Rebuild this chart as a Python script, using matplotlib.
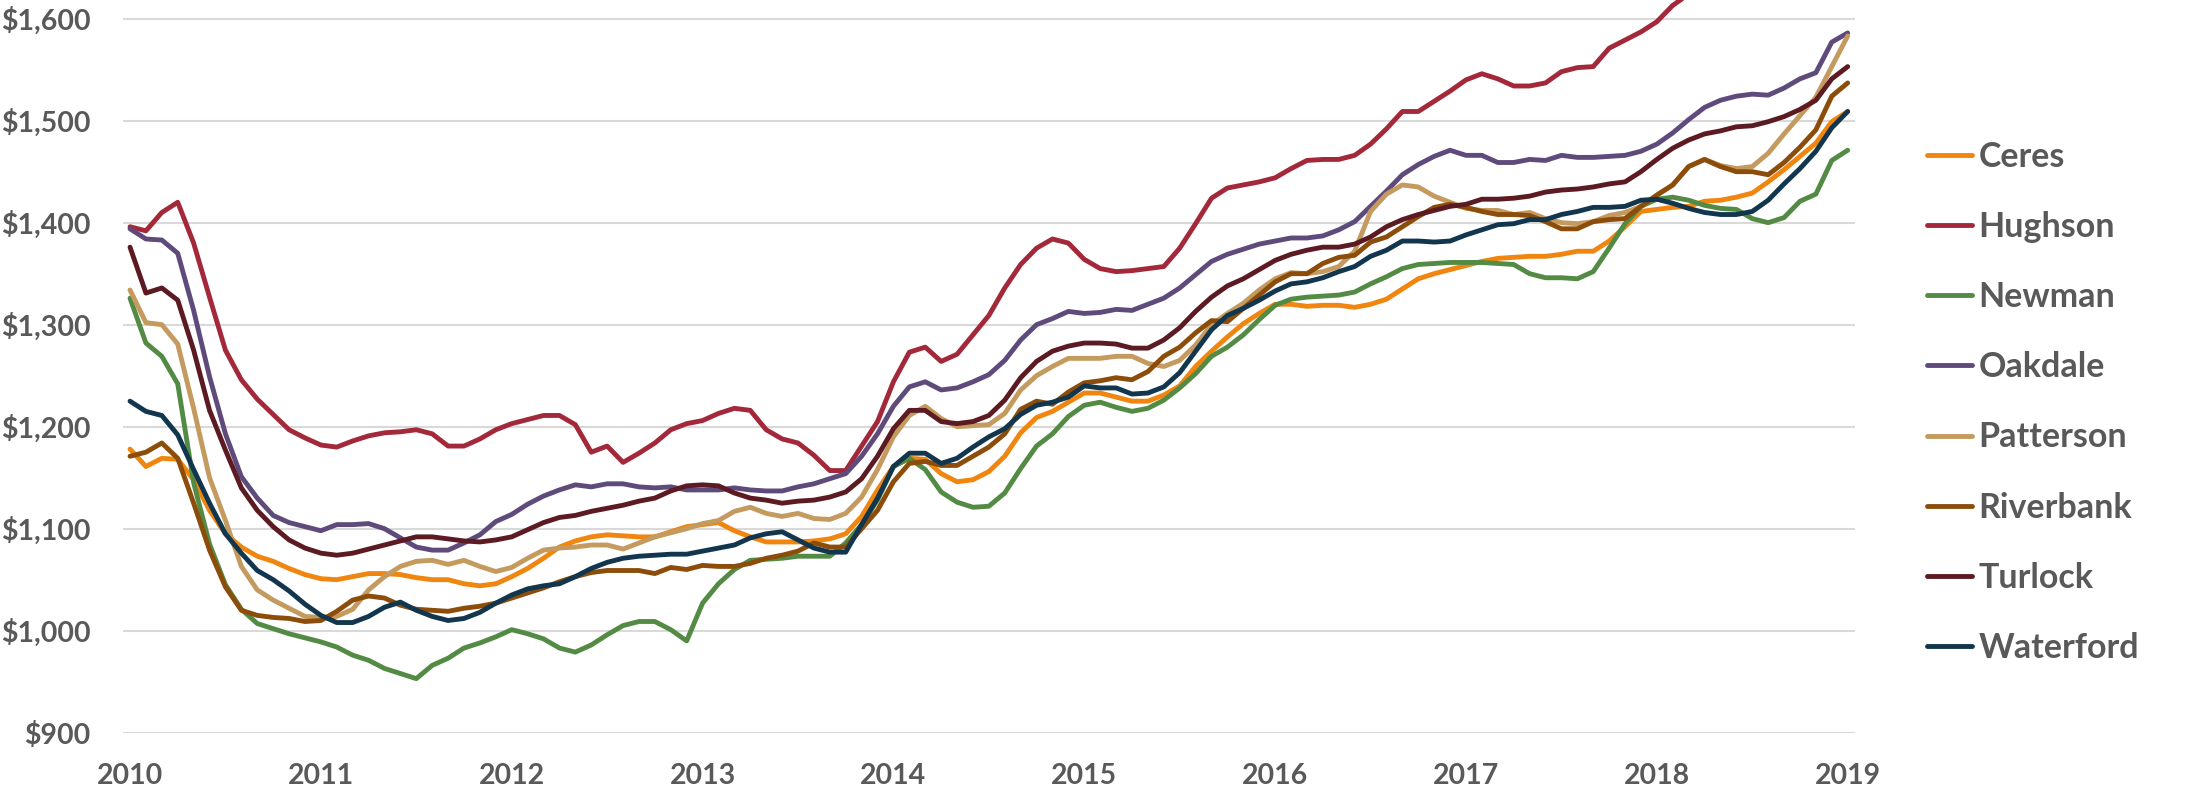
import matplotlib
matplotlib.use("Agg")
import matplotlib.pyplot as plt
from matplotlib.font_manager import FontProperties
import numpy as np

# ---- data (monthly, Jan 2010 .. Jan 2019) ----
months = np.arange(109)
year_ticks = np.arange(0, 109, 12)
year_labels = [str(y) for y in range(2010, 2020)]
y_ticks = list(range(900, 1700, 100))

series_names = ["Ceres", "Hughson", "Newman", "Oakdale", "Patterson", "Riverbank", "Turlock", "Waterford"]
series_colors = ["#F0860F", "#A3293A", "#538B45", "#5F4B7B", "#C49A5E", "#8C4D0B", "#5C1A22", "#11364D"]

ceres = [1178, 1161, 1169, 1168, 1148, 1118, 1095, 1082, 1073, 1068, 1061, 1055, 1051, 1050, 1053, 1056, 1056, 1055, 1052, 1050,
         1050, 1046, 1044, 1046, 1053, 1061, 1071, 1082, 1088, 1092, 1094, 1093, 1092, 1092, 1097, 1102, 1104, 1106, 1098, 1092,
         1087, 1087, 1087, 1088, 1090, 1095, 1112, 1138, 1161, 1169, 1168, 1154, 1146, 1148, 1156, 1171, 1194, 1209, 1215, 1224,
         1233, 1233, 1229, 1225, 1225, 1231, 1240, 1259, 1274, 1288, 1301, 1311, 1320, 1320, 1318, 1319, 1319, 1317, 1320, 1325,
         1335, 1345, 1350, 1354, 1358, 1362, 1365, 1366, 1367, 1367, 1369, 1372, 1372, 1382, 1396, 1411, 1413, 1415, 1416, 1421,
         1422, 1425, 1429, 1440, 1452, 1465, 1478, 1499, 1509]
hughson = [1396, 1392, 1410, 1420, 1380, 1327, 1275, 1246, 1227, 1212, 1197, 1189, 1182, 1180, 1186, 1191, 1194, 1195, 1197, 1193,
           1181, 1181, 1188, 1197, 1203, 1207, 1211, 1211, 1202, 1175, 1181, 1165, 1174, 1184, 1197, 1203, 1206, 1213, 1218, 1216,
           1197, 1188, 1184, 1172, 1157, 1157, 1181, 1205, 1244, 1273, 1278, 1264, 1271, 1290, 1309, 1336, 1359, 1375, 1384, 1380,
           1364, 1355, 1352, 1353, 1355, 1357, 1375, 1399, 1424, 1434, 1437, 1440, 1444, 1453, 1461, 1462, 1462, 1466, 1477, 1492,
           1509, 1509, 1519, 1529, 1540, 1546, 1541, 1534, 1534, 1537, 1548, 1552, 1553, 1571, 1579, 1587, 1597, 1613, 1624, 1632,
           1640, 1646, 1651, 1658, 1664, 1672, 1681, 1692, 1702]
newman = [1326, 1282, 1269, 1242, 1145, 1085, 1045, 1021, 1007, 1002, 997, 993, 989, 984, 976, 971, 963, 958, 953, 966,
          973, 983, 988, 994, 1001, 997, 992, 983, 979, 986, 996, 1005, 1009, 1009, 1001, 990, 1027, 1046, 1060, 1069,
          1070, 1071, 1073, 1073, 1073, 1086, 1104, 1128, 1161, 1169, 1158, 1136, 1126, 1121, 1122, 1135, 1159, 1181, 1193, 1210,
          1221, 1224, 1219, 1215, 1218, 1226, 1238, 1252, 1269, 1278, 1290, 1305, 1319, 1325, 1327, 1328, 1329, 1332, 1340, 1347,
          1355, 1359, 1360, 1361, 1361, 1361, 1360, 1359, 1350, 1346, 1346, 1345, 1352, 1375, 1399, 1416, 1423, 1425, 1422, 1417,
          1414, 1413, 1404, 1400, 1405, 1421, 1428, 1461, 1471]
oakdale = [1394, 1384, 1383, 1370, 1314, 1249, 1193, 1151, 1130, 1113, 1106, 1102, 1098, 1104, 1104, 1105, 1100, 1091, 1082, 1079,
           1079, 1086, 1094, 1107, 1114, 1124, 1132, 1138, 1143, 1141, 1144, 1144, 1141, 1140, 1141, 1138, 1138, 1138, 1140, 1138,
           1137, 1137, 1141, 1144, 1149, 1154, 1171, 1193, 1220, 1239, 1244, 1236, 1238, 1244, 1251, 1265, 1285, 1300, 1306, 1313,
           1311, 1312, 1315, 1314, 1320, 1326, 1336, 1349, 1362, 1369, 1374, 1379, 1382, 1385, 1385, 1387, 1393, 1401, 1416, 1431,
           1447, 1457, 1465, 1471, 1466, 1466, 1459, 1459, 1462, 1461, 1466, 1464, 1464, 1465, 1466, 1470, 1477, 1488, 1501, 1513,
           1520, 1524, 1526, 1525, 1532, 1541, 1547, 1577, 1586]
patterson = [1334, 1302, 1300, 1281, 1218, 1150, 1108, 1063, 1040, 1030, 1022, 1014, 1013, 1014, 1021, 1040, 1053, 1063, 1068, 1069,
             1065, 1069, 1063, 1058, 1062, 1071, 1079, 1081, 1082, 1084, 1084, 1080, 1086, 1092, 1096, 1100, 1105, 1108, 1117, 1121,
             1115, 1112, 1115, 1110, 1109, 1115, 1131, 1158, 1190, 1211, 1220, 1208, 1200, 1201, 1202, 1213, 1236, 1250, 1259, 1267,
             1267, 1267, 1269, 1269, 1262, 1259, 1265, 1280, 1300, 1311, 1321, 1334, 1345, 1351, 1350, 1352, 1357, 1372, 1411, 1428,
             1437, 1435, 1426, 1420, 1414, 1412, 1412, 1408, 1410, 1404, 1400, 1399, 1401, 1407, 1410, 1416, 1427, 1437, 1455, 1462,
             1456, 1453, 1455, 1468, 1487, 1505, 1523, 1553, 1583]
riverbank = [1171, 1175, 1184, 1169, 1125, 1079, 1043, 1020, 1015, 1013, 1012, 1009, 1010, 1019, 1030, 1034, 1032, 1025, 1021, 1020,
             1019, 1022, 1024, 1027, 1032, 1037, 1042, 1048, 1053, 1057, 1059, 1059, 1059, 1056, 1062, 1060, 1064, 1063, 1063, 1066,
             1071, 1074, 1078, 1086, 1082, 1082, 1100, 1118, 1146, 1164, 1166, 1162, 1162, 1171, 1180, 1193, 1217, 1225, 1222, 1234,
             1243, 1245, 1248, 1246, 1254, 1269, 1278, 1292, 1304, 1303, 1316, 1329, 1342, 1350, 1350, 1360, 1366, 1368, 1381, 1386,
             1396, 1406, 1415, 1418, 1415, 1411, 1408, 1408, 1407, 1401, 1394, 1394, 1401, 1403, 1404, 1416, 1427, 1437, 1455, 1462,
             1455, 1450, 1450, 1447, 1459, 1474, 1491, 1524, 1537]
turlock = [1376, 1331, 1336, 1324, 1275, 1216, 1177, 1140, 1118, 1102, 1089, 1081, 1076, 1074, 1076, 1080, 1084, 1088, 1092, 1092,
           1090, 1088, 1087, 1089, 1092, 1099, 1106, 1111, 1113, 1117, 1120, 1123, 1127, 1130, 1137, 1142, 1143, 1142, 1135, 1130,
           1128, 1125, 1127, 1128, 1131, 1136, 1149, 1171, 1198, 1216, 1216, 1205, 1203, 1205, 1211, 1226, 1248, 1264, 1274, 1279,
           1282, 1282, 1281, 1277, 1277, 1285, 1297, 1313, 1327, 1338, 1345, 1354, 1363, 1369, 1373, 1376, 1376, 1379, 1386, 1396,
           1403, 1408, 1412, 1416, 1418, 1423, 1423, 1424, 1426, 1430, 1432, 1433, 1435, 1438, 1440, 1450, 1462, 1473, 1481, 1487,
           1490, 1494, 1495, 1499, 1504, 1511, 1520, 1541, 1553]
waterford = [1225, 1215, 1211, 1192, 1158, 1125, 1095, 1076, 1059, 1050, 1039, 1026, 1015, 1008, 1008, 1014, 1023, 1028, 1020, 1014,
             1010, 1012, 1018, 1027, 1035, 1041, 1044, 1046, 1053, 1061, 1067, 1071, 1073, 1074, 1075, 1075, 1078, 1081, 1084, 1091,
             1095, 1097, 1089, 1081, 1077, 1077, 1104, 1130, 1161, 1174, 1174, 1164, 1169, 1180, 1190, 1198, 1212, 1221, 1224, 1229,
             1240, 1238, 1238, 1232, 1233, 1239, 1253, 1274, 1295, 1309, 1316, 1324, 1333, 1340, 1342, 1346, 1352, 1357, 1367, 1373,
             1382, 1382, 1381, 1382, 1388, 1393, 1398, 1399, 1403, 1403, 1408, 1411, 1415, 1415, 1416, 1422, 1423, 1419, 1414, 1410,
             1408, 1408, 1411, 1422, 1438, 1453, 1470, 1493, 1509]

series_values = [ceres, hughson, newman, oakdale, patterson, riverbank, turlock, waterford]

# ---- figure ----
W, H = 2190, 793
fig = plt.figure(figsize=(W / 100, H / 100), dpi=100)
left_px, right_px, bottom_px, top_px = 122.7, 1855.0, 732.7, 0.0
ax = fig.add_axes([left_px / W, 1 - bottom_px / H, (right_px - left_px) / W, (bottom_px - top_px) / H])

for name, vals, col in zip(series_names, series_values, series_colors):
    ax.plot(months, vals, color=col, lw=3.5, label=name,
            solid_joinstyle="round", solid_capstyle="round")

ax.set_xlim(-0.46, 108.46)
ax.set_ylim(900, 1618.3)

tick_font = FontProperties(family="Lato", weight="bold", size=20.5)
ax.set_yticks(y_ticks)
ax.set_yticklabels([f"${v:,}" for v in y_ticks], fontproperties=tick_font, color="#595959")
ax.set_xticks(year_ticks)
ax.set_xticklabels(year_labels, fontproperties=tick_font, color="#595959")
ax.tick_params(axis="y", length=0, pad=23)
ax.tick_params(axis="x", length=0, pad=22)

ax.yaxis.grid(True, color="#D9D9D9", lw=1.5)
ax.set_axisbelow(True)
for s in ax.spines.values():
    s.set_visible(False)

leg_font = FontProperties(family="Lato", weight="bold", size=24.5)
leg = ax.legend(loc="upper left", bbox_to_anchor=(1927 / W, 1 - 141 / H),
                bbox_transform=fig.transFigure, frameon=False, prop=leg_font,
                labelcolor="#595959", handlelength=1.32, handletextpad=0.2,
                labelspacing=1.12, borderpad=0, borderaxespad=0)
for line in leg.get_lines():
    line.set_linewidth(3.5)
    line.set_solid_capstyle("round")

fig.savefig("out.png", dpi=100)
